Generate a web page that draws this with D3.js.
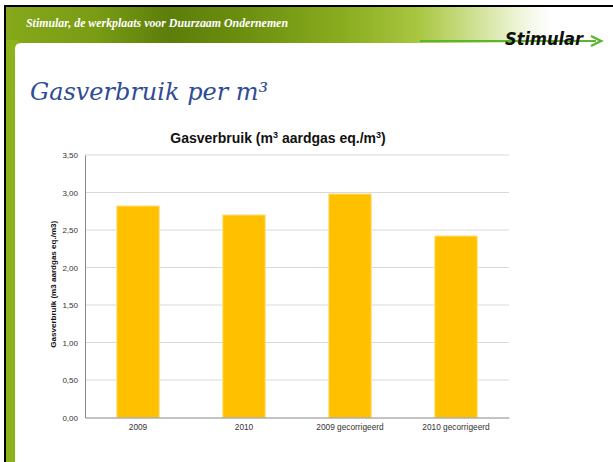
<!DOCTYPE html>
<html>
	<head>
		<title>Gasverbruik per m3</title>
		<style>
			body, html {
				margin: 0;
				padding: 0;
				background: #fff;
			}
		</style>
	</head>
	<body>

		<svg id="svg" width="613" height="462"></svg>

		<script src="https://d3js.org/d3.v7.min.js"></script>
		<script>
			// Chart values
			const categories = ['2009', '2010', '2009 gecorrigeerd', '2010 gecorrigeerd']
			const values = [2.82, 2.70, 2.98, 2.42]
			const yTicks = [0, 0.5, 1, 1.5, 2, 2.5, 3, 3.5]

			const svg = d3.select('#svg')

			// --- slide frame ---
			const defs = svg.append('defs')
			const grad = defs.append('linearGradient')
				.attr('id', 'band')
				.attr('x1', 0).attr('x2', 1).attr('y1', 0).attr('y2', 0)
			const stops = [
				[0, '#86a81a'], [0.15, '#799c14'], [0.27, '#5c7e0b'],
				[0.38, '#6a8d0e'], [0.55, '#88ab1e'], [0.68, '#a9c640'],
				[0.78, '#d2e39a'], [0.86, '#f3f8e6'], [0.9, '#ffffff'], [1, '#ffffff']
			]
			stops.forEach(s => grad.append('stop').attr('offset', s[0]).attr('stop-color', s[1]))

			svg.append('rect')
				.attr('x', 5).attr('y', 5).attr('width', 608).attr('height', 457)
				.attr('fill', 'url(#band)')
			// left green strip
			svg.append('rect')
				.attr('x', 6).attr('y', 40).attr('width', 12).attr('height', 422)
				.attr('fill', '#8db31c')

			// white content area with rounded top-left corner
			svg.append('path')
				.attr('d', 'M15,49 Q15,43 21,43 L613,43 L613,462 L15,462 Z')
				.attr('fill', '#fff')

			// black border top and left
			svg.append('line')
				.attr('x1', 4).attr('x2', 613).attr('y1', 6).attr('y2', 6)
				.attr('stroke', '#000').attr('stroke-width', 2)
			svg.append('line')
				.attr('x1', 5).attr('x2', 5).attr('y1', 5).attr('y2', 462)
				.attr('stroke', '#000').attr('stroke-width', 2)

			svg.append('text')
				.attr('x', 26).attr('y', 27)
				.attr('fill', '#fff')
				.style('font-family', 'Liberation Serif, serif')
				.style('font-style', 'italic')
				.style('font-weight', 'bold')
				.style('font-size', '12px')
				.attr('textLength', 262)
				.attr('lengthAdjust', 'spacingAndGlyphs')
				.text('Stimular, de werkplaats voor Duurzaam Ondernemen')

			// logo with arrow line
			svg.append('line')
				.attr('x1', 420).attr('x2', 596).attr('y1', 41).attr('y2', 41)
				.attr('stroke', '#5db52f').attr('stroke-width', 2)
			svg.append('path')
				.attr('d', 'M591,36 L601,41 L591,46')
				.attr('fill', 'none')
				.attr('stroke', '#5db52f').attr('stroke-width', 2.5)
			svg.append('text')
				.attr('x', 505).attr('y', 45)
				.attr('fill', '#111')
				.style('font-family', 'DejaVu Sans Condensed, DejaVu Sans, sans-serif')
				.style('font-style', 'italic')
				.style('font-weight', 'bold')
				.style('font-size', '17px')
				.attr('textLength', 78)
				.attr('lengthAdjust', 'spacingAndGlyphs')
				.text('Stimular')

			// slide title
			svg.append('text')
				.attr('x', 30).attr('y', 100)
				.attr('fill', '#2f4c95')
				.style('font-family', 'DejaVu Serif, serif')
				.style('font-style', 'italic')
				.style('font-size', '24px')
				.text('Gasverbruik per m³')

			// --- chart ---
			const plotLeft = 85, plotRight = 509, plotTop = 155, plotBottom = 417.5

			const xscale = d3.scaleBand()
				.domain(categories)
				.range([plotLeft, plotRight])
				.paddingInner(0.6)
				.paddingOuter(0.3)

			const yscale = d3.scaleLinear()
				.domain([0, 3.5])
				.range([plotBottom, plotTop])

			const fmt = d => d3.format('.2f')(d).replace('.', ',')

			// gridlines
			svg.append('g')
				.selectAll('line')
				.data(yTicks.slice(1))
				.join('line')
				.attr('x1', plotLeft).attr('x2', plotRight)
				.attr('y1', d => yscale(d)).attr('y2', d => yscale(d))
				.attr('stroke', '#d9d9d9')

			// bars
			svg.append('g')
				.selectAll('rect')
				.data(values)
				.join('rect')
				.attr('x', (d, i) => xscale(categories[i]))
				.attr('y', d => yscale(d))
				.attr('width', xscale.bandwidth())
				.attr('height', d => plotBottom - yscale(d))
				.attr('fill', '#ffc000')
				.attr('stroke', '#ffdd7a')
				.attr('stroke-width', 1)

			// y axis
			const yAxis = svg.append('g')
				.attr('transform', `translate(${plotLeft},0)`)
				.call(d3.axisLeft(yscale).tickValues(yTicks).tickFormat(fmt).tickSize(0).tickPadding(7))
			yAxis.select('.domain').attr('stroke', '#888')
			yAxis.selectAll('text')
				.attr('fill', '#333')
				.style('font-family', 'Liberation Sans, Arial, sans-serif')
				.style('font-size', '8px')

			// x axis
			const xAxis = svg.append('g')
				.attr('transform', `translate(0,${plotBottom})`)
				.call(d3.axisBottom(xscale).tickSize(0).tickPadding(7))
			xAxis.select('.domain').attr('stroke', '#888')
			xAxis.selectAll('text')
				.attr('fill', '#333')
				.style('font-family', 'Liberation Sans, Arial, sans-serif')
				.style('font-size', '8.3px')

			// chart title
			const title = svg.append('text')
				.attr('x', 278).attr('y', 143)
				.attr('text-anchor', 'middle')
				.attr('fill', '#111')
				.style('font-family', 'Liberation Sans, Arial, sans-serif')
				.style('font-weight', 'bold')
				.style('font-size', '14px')
			title.append('tspan').text('Gasverbruik (m')
			title.append('tspan').attr('dy', -5).style('font-size', '9px').text('3')
			title.append('tspan').attr('dy', 5).text(' aardgas eq./m')
			title.append('tspan').attr('dy', -5).style('font-size', '9px').text('3')
			title.append('tspan').attr('dy', 5).text(')')

			// y axis title
			svg.append('text')
				.attr('transform', `translate(56,${(plotTop + plotBottom) / 2 - 2}) rotate(-90)`)
				.attr('text-anchor', 'middle')
				.attr('fill', '#111')
				.style('font-family', 'Liberation Sans, Arial, sans-serif')
				.style('font-weight', 'bold')
				.style('font-size', '7.5px')
				.attr('textLength', 127)
				.attr('lengthAdjust', 'spacingAndGlyphs')
				.text('Gasverbruik (m3 aardgas eq./m3)')
		</script>
	</body>
</html>
